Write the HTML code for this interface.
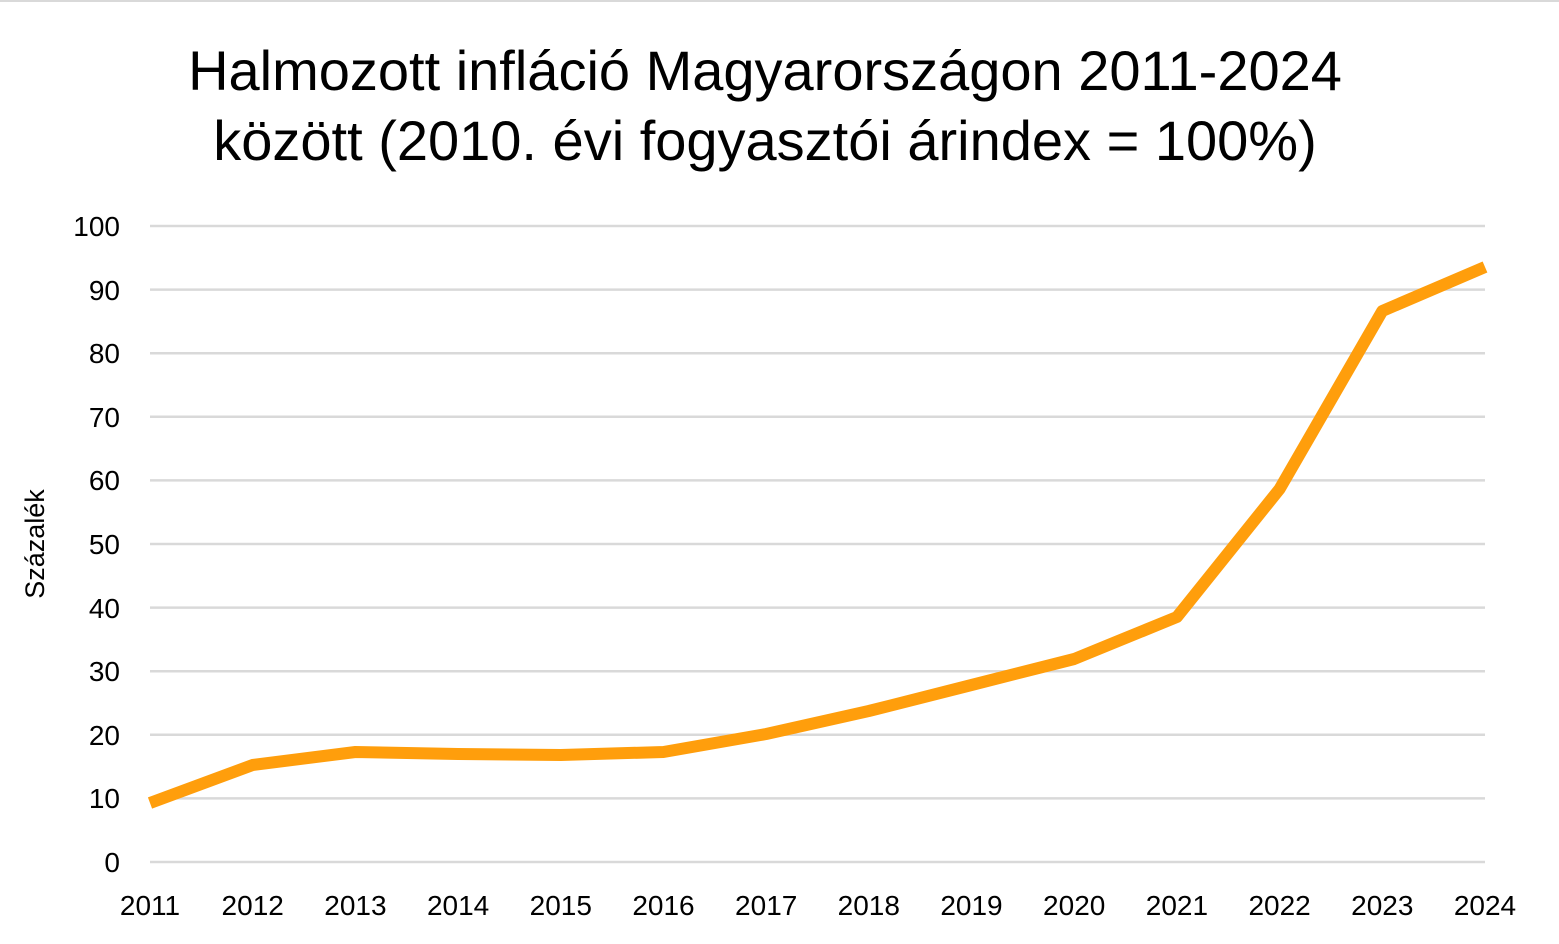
<!DOCTYPE html>
<html><head><meta charset="utf-8"><style>
body{margin:0;background:#fff;}
svg{display:block;font-family:"Liberation Sans",sans-serif;}
</style></head><body>
<svg width="1559" height="944" viewBox="0 0 1559 944">
<rect width="1559" height="944" fill="#fff"/>
<line x1="0" y1="1" x2="1559" y2="1" stroke="#d9d9d9" stroke-width="2"/>
<text x="765" y="90" font-size="56" text-anchor="middle" fill="#000">Halmozott infláció Magyarországon 2011-2024</text>
<text x="765" y="160" font-size="56" text-anchor="middle" fill="#000">között (2010. évi fogyasztói árindex = 100%)</text>
<g stroke="#d9d9d9" stroke-width="2.5">
<line x1="150" y1="226" x2="1485" y2="226"/>
<line x1="150" y1="289.6" x2="1485" y2="289.6"/>
<line x1="150" y1="353.2" x2="1485" y2="353.2"/>
<line x1="150" y1="416.8" x2="1485" y2="416.8"/>
<line x1="150" y1="480.4" x2="1485" y2="480.4"/>
<line x1="150" y1="544" x2="1485" y2="544"/>
<line x1="150" y1="607.6" x2="1485" y2="607.6"/>
<line x1="150" y1="671.2" x2="1485" y2="671.2"/>
<line x1="150" y1="734.8" x2="1485" y2="734.8"/>
<line x1="150" y1="798.4" x2="1485" y2="798.4"/>
<line x1="150" y1="862" x2="1485" y2="862"/>
</g>
<g font-size="28" fill="#000" text-anchor="end">
<text x="120" y="236">100</text><text x="120" y="300">90</text><text x="120" y="363">80</text>
<text x="120" y="427">70</text><text x="120" y="490">60</text><text x="120" y="554">50</text>
<text x="120" y="618">40</text><text x="120" y="681">30</text><text x="120" y="745">20</text>
<text x="120" y="808">10</text><text x="120" y="872">0</text>
</g>
<text transform="translate(44,544) rotate(-90)" font-size="27" text-anchor="middle">Százalék</text>
<g font-size="28" fill="#000" text-anchor="middle">
<text x="150" y="915">2011</text><text x="252.7" y="915">2012</text><text x="355.4" y="915">2013</text>
<text x="458.1" y="915">2014</text><text x="560.8" y="915">2015</text><text x="663.5" y="915">2016</text>
<text x="766.2" y="915">2017</text><text x="868.8" y="915">2018</text><text x="971.5" y="915">2019</text>
<text x="1074.2" y="915">2020</text><text x="1176.9" y="915">2021</text><text x="1279.6" y="915">2022</text>
<text x="1382.3" y="915">2023</text><text x="1485" y="915">2024</text>
</g>
<polyline fill="none" stroke="#ff9e0c" stroke-width="12" stroke-linejoin="round"
points="150,803 252.7,765 355.4,752 458.1,754 560.8,755 663.5,752 766.2,734 868.8,711 971.5,685 1074.2,659 1176.9,617 1279.6,489 1382.3,311 1485,267"/>
</svg>
</body></html>
